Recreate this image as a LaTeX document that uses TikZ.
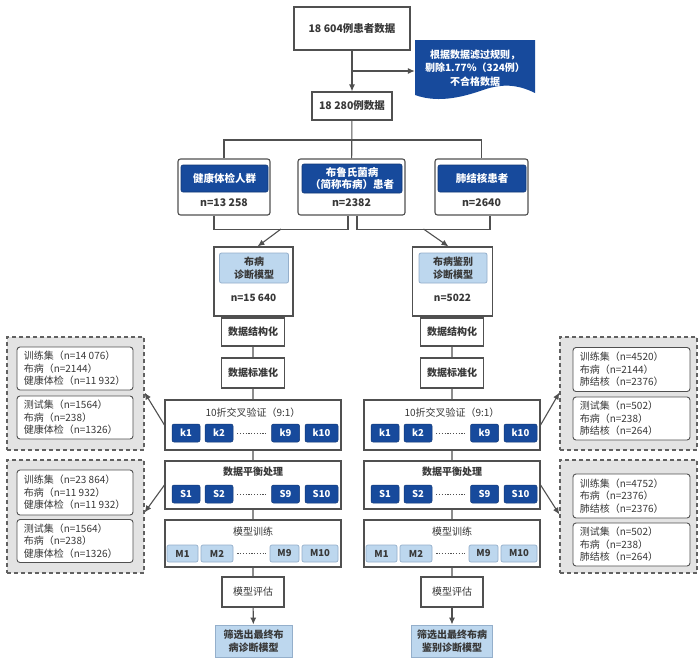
\documentclass[tikz,border=0pt]{standalone}
\usepackage{fontspec}
\setmainfont{Noto Sans CJK SC}
\usetikzlibrary{arrows.meta,calc}
\definecolor{dblue}{HTML}{174A9C}
\definecolor{lblue}{HTML}{BDD7EE}
\definecolor{lbord}{HTML}{94AFCB}
\definecolor{bgray}{HTML}{505050}
\definecolor{pgray}{HTML}{E3E3E3}
\definecolor{tgray}{HTML}{383838}
\newcommand{\fsz}[2]{\fontsize{#1}{#2}\selectfont}
\begin{document}
\begin{tikzpicture}[x=1pt,y=-1pt,
  ln/.style={draw=bgray, line width=1.1pt},
  arr/.style={ln, -{Latex[length=7pt,width=6pt]}},
  box/.style={draw=bgray, line width=1.1pt, fill=white, inner sep=0pt, text=tgray, align=center},
  rbox/.style={box, rounded corners=2.5pt},
  hdr/.style={fill=dblue, draw=dblue!75!black, line width=0.6pt, rounded corners=2pt, text=white, font=\bfseries\fsz{10.5}{12.5}, inner sep=0pt, align=center},
  lhdr/.style={fill=lblue, draw=lbord, line width=0.8pt, rounded corners=2pt, text=tgray, font=\bfseries\fsz{10}{13}, inner sep=0pt, align=center},
  ntxt/.style={text=tgray, font=\bfseries\fsz{10.5}{12}, inner sep=0pt},
  ttl/.style={text=tgray, font=\fsz{10}{12}, inner sep=0pt},
  kbtn/.style={fill=dblue, draw=dblue!75!black, line width=0.5pt, rounded corners=2pt, text=white, font=\bfseries\fsz{9.5}{11}, minimum height=18pt, inner sep=0pt},
  mbtn/.style={fill=lblue, draw=lbord, line width=0.7pt, rounded corners=2pt, text=tgray, font=\bfseries\fsz{9.5}{11}, minimum height=17pt, inner sep=0pt},
  panel/.style={draw=bgray!90, line width=1.1pt, dash pattern=on 4pt off 3pt, fill=pgray, inner sep=0pt},
  ibox/.style={draw=bgray, fill=white, rounded corners=3pt, line width=0.9pt, inner sep=0pt},
  ptxt/.style={anchor=west, align=left, font=\fsz{10}{12.5}, text=tgray, inner sep=0pt},
  dots/.style={draw=bgray, line width=0.9pt, dash pattern=on 1.2pt off 1.6pt}
]
\useasboundingbox[fill=white] (0,0) rectangle (700,662);

% top
\node[box, font=\bfseries\fsz{10.5}{12}, minimum width=116pt, minimum height=43pt] (top) at (352,28.5) {18 604例患者数据};
\node[box, font=\bfseries\fsz{10.5}{12}, minimum width=80pt, minimum height=28pt] (b2) at (352,106) {18 280例数据};
\fill[dblue] (415,40) -- (535,40) -- (535,93) .. controls (517,84) and (502,84) .. (486,89) .. controls (466,96) and (440,104) .. (415,95) -- cycle;
\node[text=white, font=\bfseries\fsz{10}{13.5}, align=center, minimum width=120pt, inner sep=0pt] (doc) at (475,68) {根据数据滤过规则，\\剔除1.77\%（324例）\\不合格数据};
\draw[arr] (top) -- (b2);
\coordinate (br) at (352,71);
\draw[arr] (br) -- (br -| doc.west);

% groups
\node[rbox, minimum width=92pt, minimum height=56pt] (g1) at (224,187) {};
\node[hdr, minimum width=87pt, minimum height=27pt] (g1h) at (224.5,178.5) {健康体检人群};
\node[ntxt] (g1n) at (224,202.5) {n=13 258};
\node[rbox, minimum width=107pt, minimum height=56pt] (g2) at (351.5,187) {};
\node[hdr, minimum width=100pt, minimum height=29pt] (g2h) at (352,178.5) {布鲁氏菌病\\（简称布病）患者};
\node[ntxt] (g2n) at (351.5,203) {n=2382};
\node[rbox, minimum width=93pt, minimum height=56pt] (g3) at (481.5,187) {};
\node[hdr, minimum width=88pt, minimum height=27pt] (g3h) at (482,178.5) {肺结核患者};
\node[ntxt] (g3n) at (481.5,202.5) {n=2640};

\coordinate (hc) at (352,140);
\draw[ln] (g1.north) |- (hc) -| (g3.north);
\draw[ln] (b2) -- (g2);

\draw[ln] ([xshift=-10pt]g1.south) -- ++(0,14) -| ([xshift=-3.5pt]g2.south);
\draw[ln] ([xshift=5.5pt]g2.south) -- ++(0,14) -| ([xshift=8.5pt]g3.south);

% model boxes
\node[box, minimum width=79pt, minimum height=69pt] (mL) at (253.5,281.5) {};
\node[lhdr, minimum width=69pt, minimum height=30pt] (mLh) at (254,268) {布病\\诊断模型};
\node[ntxt, font=\bfseries\fsz{10}{12}] (mLn) at (253.5,297.5) {n=15 640};
\node[box, minimum width=80pt, minimum height=69pt] (mR) at (452.5,281.5) {};
\node[lhdr, minimum width=68pt, minimum height=30pt] (mRh) at (453,268) {布病鉴别\\诊断模型};
\node[ntxt, font=\bfseries\fsz{10}{12}] (mRn) at (452.5,297.5) {n=5022};

\coordinate (aL) at (281,229);
\coordinate (aR) at (423.5,229);
\draw[arr] (aL) -- ([xshift=4pt]mL.north);
\draw[arr] (aR) -- ([xshift=-4pt]mR.north);

% columns
\foreach \c/\x in {L/253,R/452}{
  \node[box, font=\bfseries\fsz{10}{12}, minimum width=63pt, minimum height=28pt] (s\c) at (\x,332) {数据结构化};
  \node[box, font=\bfseries\fsz{10}{12}, minimum width=63pt, minimum height=30pt] (n\c) at (\x,373) {数据标准化};
  \node[box, minimum width=176pt, minimum height=50pt] (k\c) at (\x,425) {};
  \node[ttl] (kt\c) at (\x,413) {10折交叉验证（9:1）};
  \node[kbtn, minimum width=28pt] (k1\c) at ({\x-67},433) {k1};
  \node[kbtn, minimum width=28pt] (k2\c) at ({\x-34},433) {k2};
  \node[kbtn, minimum width=28pt] (k9\c) at ({\x+32.5},433) {k9};
  \node[kbtn, minimum width=33pt] (k10\c) at ({\x+68.5},433) {k10};
  \draw[dots] ([xshift=4pt]k2\c.east) -- ([xshift=-4pt]k9\c.west);
  \node[box, minimum width=176pt, minimum height=48pt] (b\c) at (\x,485) {};
  \node[ttl, font=\bfseries\fsz{10}{12}] (bt\c) at (\x,472) {数据平衡处理};
  \node[kbtn, minimum width=28pt] (s1\c) at ({\x-67},494) {S1};
  \node[kbtn, minimum width=28pt] (s2\c) at ({\x-34},494) {S2};
  \node[kbtn, minimum width=28pt] (s9\c) at ({\x+32.5},494) {S9};
  \node[kbtn, minimum width=33pt] (s10\c) at ({\x+68.5},494) {S10};
  \draw[dots] ([xshift=4pt]s2\c.east) -- ([xshift=-4pt]s9\c.west);
  \node[box, minimum width=176pt, minimum height=47pt] (t\c) at (\x,543.5) {};
  \node[ttl] (tt\c) at (\x,532) {模型训练};
  \node[mbtn, minimum width=31pt] (m1\c) at ({\x-70.5},553.5) {M1};
  \node[mbtn, minimum width=32pt] (m2\c) at ({\x-36},553.5) {M2};
  \node[mbtn, minimum width=29pt] (m9\c) at ({\x+31.5},553.5) {M9};
  \node[mbtn, minimum width=36pt] (m10\c) at ({\x+67},553.5) {M10};
  \draw[dots] ([xshift=4pt]m2\c.east) -- ([xshift=-4pt]m9\c.west);
  \node[box, font=\fsz{10}{12}, minimum width=62pt, minimum height=30pt] (e\c) at (\x,592) {模型评估};
  \draw[ln] (m\c) -- (s\c) -- (n\c) -- (k\c) -- (b\c) -- (t\c) -- (e\c);
}
\node[fill=lblue, draw=lbord, line width=0.9pt, inner sep=0pt, align=center, text=tgray, font=\bfseries\fsz{10}{13}, minimum width=77pt, minimum height=32pt] (fL) at (253.5,641) {筛选出最终布\\病诊断模型};
\node[fill=lblue, draw=lbord, line width=0.9pt, inner sep=0pt, align=center, text=tgray, font=\bfseries\fsz{10}{13}, minimum width=81pt, minimum height=32pt] (fR) at (452,641) {筛选出最终布病\\鉴别诊断模型};
\draw[arr] (eL) -- (fL);
\draw[arr] (eR) -- (fR);

% left panels
\node[panel, minimum width=137pt, minimum height=113pt] (pL1) at (75.5,393.5) {};
\node[ibox, minimum width=116pt, minimum height=43pt] (iL1a) at (75,368.5) {};
\node[ptxt] (tL1a) at ([xshift=7pt]iL1a.west) {训练集（n=14 076）\\布病（n=2144）\\健康体检（n=11 932）};
\node[ibox, minimum width=116pt, minimum height=43pt] (iL1b) at (75,417.5) {};
\node[ptxt] (tL1b) at ([xshift=7pt]iL1b.west) {测试集（n=1564）\\布病（n=238）\\健康体检（n=1326）};

\node[panel, minimum width=137pt, minimum height=113pt] (pL2) at (75.5,516.5) {};
\node[ibox, minimum width=116pt, minimum height=45pt] (iL2a) at (75,492.5) {};
\node[ptxt] (tL2a) at ([xshift=7pt]iL2a.west) {训练集（n=23 864）\\布病（n=11 932）\\健康体检（n=11 932）};
\node[ibox, minimum width=116pt, minimum height=43pt] (iL2b) at (75,541) {};
\node[ptxt] (tL2b) at ([xshift=7pt]iL2b.west) {测试集（n=1564）\\布病（n=238）\\健康体检（n=1326）};

% right panels
\node[panel, minimum width=137pt, minimum height=113pt] (pR1) at (628.5,393.5) {};
\node[ibox, minimum width=117pt, minimum height=44pt] (iR1a) at (631.5,369.5) {};
\node[ptxt] (tR1a) at ([xshift=7pt]iR1a.west) {训练集（n=4520）\\布病（n=2144）\\肺结核（n=2376）};
\node[ibox, minimum width=117pt, minimum height=43pt] (iR1b) at (631.5,418.5) {};
\node[ptxt] (tR1b) at ([xshift=7pt]iR1b.west) {测试集（n=502）\\布病（n=238）\\肺结核（n=264）};

\node[panel, minimum width=137pt, minimum height=113pt] (pR2) at (628.5,516.5) {};
\node[ibox, minimum width=117pt, minimum height=44pt] (iR2a) at (631.5,496) {};
\node[ptxt] (tR2a) at ([xshift=7pt]iR2a.west) {训练集（n=4752）\\布病（n=2376）\\肺结核（n=2376）};
\node[ibox, minimum width=117pt, minimum height=43pt] (iR2b) at (631.5,544.5) {};
\node[ptxt] (tR2b) at ([xshift=7pt]iR2b.west) {测试集（n=502）\\布病（n=238）\\肺结核（n=264）};

% panel arrows
\draw[arr] (kL.west) -- ([yshift=1pt]pL1.east);
\draw[arr] (bL.west) -- ([yshift=4pt]pL2.east);
\draw[arr] (kR.east) -- ([yshift=1pt]pR1.west);
\draw[arr] (bR.east) -- ([yshift=2pt]pR2.west);
\end{tikzpicture}
\end{document}
